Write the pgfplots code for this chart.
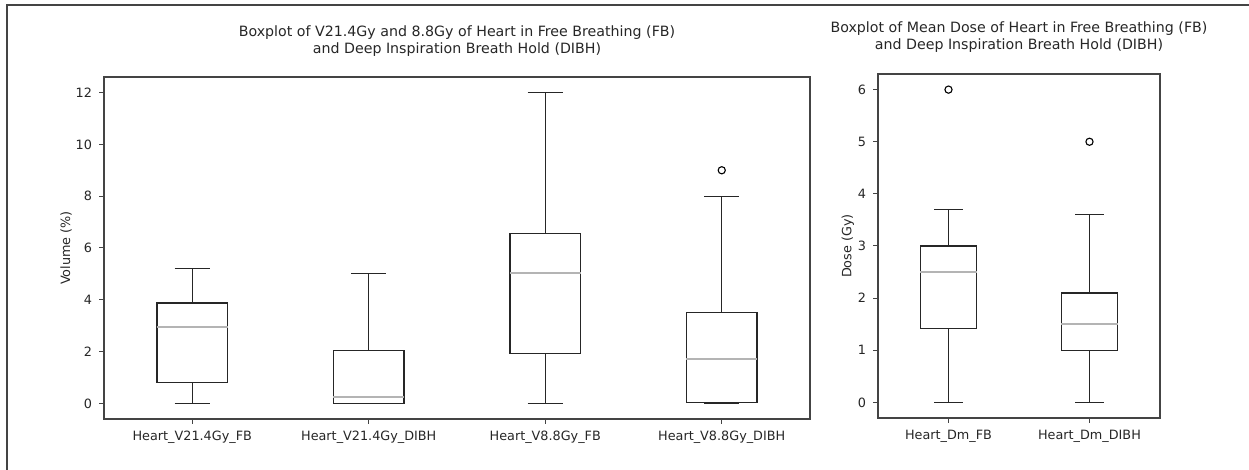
\documentclass[border=0pt]{standalone}
\usepackage{pgfplots}
\pgfplotsset{compat=1.18}
\usepgfplotslibrary{statistics}
\usepackage{fontspec}
\setmainfont{DejaVu Sans}
\definecolor{axgray}{HTML}{444444}
\definecolor{medgray}{HTML}{B4B4B4}
\pgfplotsset{
  mystyle/.style={
    scale only axis,
    anchor=south west,
    axis line style={draw=axgray, line width=0.7pt},
    tick style={draw=axgray, line width=0.5pt},
    tick align=outside,
    major tick length=2.5pt,
    xtick pos=bottom, ytick pos=left,
    /pgf/number format/assume math mode=true,
    tick label style={font=\fontsize{6.4}{7.5}\selectfont, text=black!85},
    label style={font=\fontsize{6.4}{7.5}\selectfont, text=black!85},
    title style={font=\fontsize{7.1}{8.6}\selectfont, align=center, text=black!85},
    ylabel shift=-5pt,
    boxplot/draw direction=y,
    boxplot/box extend=0.4,
    boxplot/whisker extend=0.2,
    boxplot/every box/.style={draw=black!85, line width=0.65pt},
    boxplot/every whisker/.style={draw=black!85, line width=0.55pt},
    boxplot/every median/.style={draw=medgray, line width=0.7pt},
  },
  bx/.style={draw=black!85, mark=o, mark size=1.8pt, mark options={draw=black, line width=0.55pt, fill=white}},
}
\begin{document}
\begin{tikzpicture}
\useasboundingbox (0,0) rectangle (624.5pt,235pt);
\draw[draw=axgray, line width=0.7pt] (3.5pt,0) -- (3.5pt,232.5pt) -- (624.5pt,232.5pt);
\begin{axis}[mystyle,
  at={(52pt,25.5pt)}, width=353pt, height=171pt,
  xmin=0.5, xmax=4.5, ymin=-0.6, ymax=12.6,
  xtick={1,2,3,4},
  xticklabels={Heart\_V21.4Gy\_FB, Heart\_V21.4Gy\_DIBH, Heart\_V8.8Gy\_FB, Heart\_V8.8Gy\_DIBH},
  ytick={0,2,4,6,8,10,12},
  ylabel={Volume (\%)},
  title={Boxplot of V21.4Gy and 8.8Gy of Heart in Free Breathing (FB)\\and Deep Inspiration Breath Hold (DIBH)},
  title style={yshift=0.5pt},
]
\addplot[bx, boxplot prepared={draw position=1, lower whisker=0, lower quartile=0.8, median=2.95, upper quartile=3.88, upper whisker=5.2}] coordinates {};
\addplot[bx, boxplot prepared={draw position=2, lower whisker=0, lower quartile=0, median=0.25, upper quartile=2.05, upper whisker=5.0}] coordinates {};
\addplot[bx, boxplot prepared={draw position=3, lower whisker=0, lower quartile=1.92, median=5.04, upper quartile=6.55, upper whisker=12.0}] coordinates {};
\addplot[bx, boxplot prepared={draw position=4, lower whisker=0, lower quartile=0.05, median=1.72, upper quartile=3.5, upper whisker=8.0}] coordinates {(0,9)};
\end{axis}
\begin{axis}[mystyle,
  at={(439pt,26pt)}, width=141pt, height=172pt,
  xmin=0.5, xmax=2.5, ymin=-0.3, ymax=6.3,
  xtick={1,2},
  xticklabels={Heart\_Dm\_FB, Heart\_Dm\_DIBH},
  ytick={0,1,2,3,4,5,6},
  ylabel={Dose (Gy)},
  title={Boxplot of Mean Dose of Heart in Free Breathing (FB)\\and Deep Inspiration Breath Hold (DIBH)},
  title style={yshift=1pt},
]
\addplot[bx, boxplot prepared={draw position=1, lower whisker=0, lower quartile=1.42, median=2.5, upper quartile=3.0, upper whisker=3.7}] coordinates {(0,6)};
\addplot[bx, boxplot prepared={draw position=2, lower whisker=0, lower quartile=1.0, median=1.5, upper quartile=2.1, upper whisker=3.6}] coordinates {(0,5)};
\end{axis}
\end{tikzpicture}
\end{document}
